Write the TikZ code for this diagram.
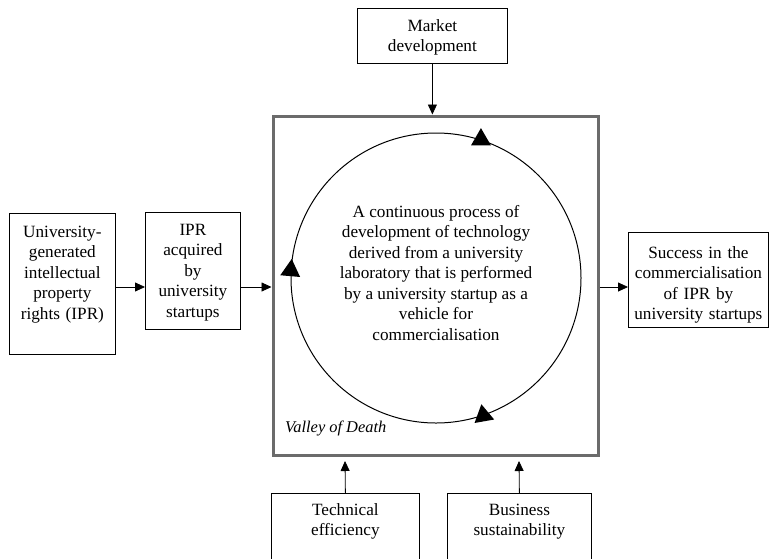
\documentclass[tikz,border=0pt]{standalone}
\usepackage{fontspec}
\setmainfont{Liberation Serif}
\usetikzlibrary{arrows.meta, shapes.geometric}

\tikzset{
  blk/.style={draw, line width=0.8pt, anchor=north west, align=center, inner sep=0pt},
  arr/.style={line width=0.8pt, -{Triangle[length=10pt,width=9pt]}},
  tri/.style={draw=none, fill=black, regular polygon, regular polygon sides=3, minimum size=23pt, inner sep=0pt},
}

\begin{document}
\begin{tikzpicture}[x=1pt, y=-1pt, font=\fontsize{17.2}{20.5}\selectfont]

    \useasboundingbox (0,0) rectangle (771,558);

    % valley of death and the development cycle
    \node (vod) [draw=black!58, line width=3pt, anchor=north west, inner sep=0pt, minimum width=325pt, minimum height=339pt] at (271.5,114.5) {};
    \node (cyc) [draw, line width=1pt, circle, minimum size=290pt, inner sep=0pt] at (436,278) {};
    \node (proc) [align=center] at (436,273) {A continuous process of\\development of technology\\derived from a university\\laboratory that is performed\\by a university startup as a\\vehicle for\\commercialisation};
    \node (vodl) [anchor=base west, inner sep=0pt, font=\fontsize{16.4}{20}\selectfont\itshape] at (285,432) {Valley of Death};
    \node (t1) [tri] at (cyc.72) {};
    \node (t2) [tri, rotate=-5] at (cyc.177) {};
    \node (t3) [tri, rotate=10] at (cyc.-71) {};

    % boxes round it
    \node (uni) [blk, text width=106pt, text height=24pt, text depth=117pt] at (9,213) {University-\\generated\\intellectual\\property\\rights (IPR)};
    \node (ipr) [blk, text width=95pt, text height=23pt, text depth=94pt] at (145,212) {IPR\\acquired\\by\\university\\startups};
    \node (succ) [blk, text width=140pt, text height=26pt, text depth=69pt] at (628,232) {Success in the\\commercialisation\\of IPR by\\university startups};
    \node (mkt) [blk, text width=150pt, text height=23pt, text depth=32pt] at (357,8) {Market\\development};
    \node (tech) [blk, text width=148pt, text height=22pt, text depth=80pt] at (271,493) {Technical\\efficiency};
    \node (biz) [blk, text width=144pt, text height=22pt, text depth=80pt] at (447,493) {Business\\sustainability};

    \coordinate (lvl) at (0,287);
    \coordinate (up1) at (345,461);
    \coordinate (up2) at (519,461);

    \draw[arr] (uni.east |- lvl) -- (ipr.west |- lvl);
    \draw[arr] (ipr.east |- lvl) -- (vod.west |- lvl);
    \draw[arr] (vod.east |- lvl) -- (succ.west |- lvl);
    \draw[arr] (mkt.south) -- (mkt.south |- vod.north);
    \draw[arr] (tech.north) -- (up1);
    \draw[arr] (biz.north) -- (up2);

\end{tikzpicture}
\end{document}
